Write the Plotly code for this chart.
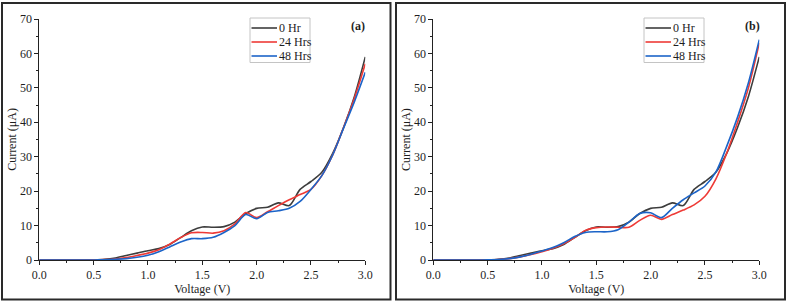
import plotly.graph_objects as go

voltage = [0.0, 0.1, 0.2, 0.3, 0.4, 0.5, 0.6, 0.7, 0.8, 0.9, 1.0, 1.1, 1.2, 1.3, 1.4, 1.5,
           1.6, 1.7, 1.8, 1.9, 2.0, 2.1, 2.2, 2.3, 2.4, 2.5, 2.6, 2.7, 2.8, 2.9, 3.0]

a_0hr = [0, 0, 0, 0, 0, 0.05, 0.2, 0.6, 1.3, 2.0, 2.7, 3.3, 4.5, 6.5, 8.5, 9.6,
         9.5, 9.7, 11.0, 13.5, 15.0, 15.3, 16.6, 15.8, 20.5, 22.8, 25.5, 31.0, 38.5, 47.5, 59.0]
a_24hrs = [0, 0, 0, 0, 0, 0.03, 0.1, 0.3, 0.7, 1.3, 2.0, 3.0, 4.6, 6.5, 7.9, 8.0,
           7.8, 8.5, 10.5, 13.8, 12.3, 14.0, 15.8, 17.5, 19.0, 20.5, 24.5, 30.5, 38.5, 47.0, 57.0]
a_48hrs = [0, 0, 0, 0, 0, 0.02, 0.08, 0.2, 0.4, 0.8, 1.4, 2.4, 3.8, 5.2, 6.2, 6.2,
           6.6, 8.0, 10.0, 13.2, 12.0, 13.8, 14.3, 15.0, 17.0, 20.5, 24.5, 30.5, 38.3, 46.0, 54.5]

b_0hr = a_0hr
b_24hrs = [0, 0, 0, 0, 0, 0.05, 0.15, 0.4, 0.9, 1.6, 2.4, 3.4, 4.7, 6.5, 8.6, 9.4,
           9.6, 9.5, 9.5, 11.5, 13.0, 11.8, 13.2, 14.5, 16.0, 18.5, 23.5, 31.0, 40.0, 50.0, 63.0]
b_48hrs = [0, 0, 0, 0, 0, 0.05, 0.15, 0.4, 0.9, 1.7, 2.6, 3.6, 5.0, 6.8, 8.0, 8.2,
           8.2, 8.8, 11.0, 13.5, 13.7, 12.3, 15.0, 17.5, 19.5, 21.5, 25.5, 33.0, 41.5, 51.5, 64.0]

series_names = ["0 Hr", "24 Hrs", "48 Hrs"]
colors = ["#3d3d3d", "#ee3a36", "#1c64c8"]
panel_labels = ["(a)", "(b)"]
x_ticks = [0.0, 0.5, 1.0, 1.5, 2.0, 2.5, 3.0]
x_tick_text = ["0.0", "0.5", "1.0", "1.5", "2.0", "2.5", "3.0"]
y_ticks = [0, 10, 20, 30, 40, 50, 60, 70]

W, H = 789, 304
FONT = "Liberation Serif, Times New Roman, serif"
TXT = "#1e1e1e"

fig = go.Figure()

panels = [(a_0hr, a_24hrs, a_48hrs), (b_0hr, b_24hrs, b_48hrs)]
x_px = [(39.3, 365.3), (433.3, 759.3)]
y_px = (260, 19)

for p, data in enumerate(panels):
    xa = "x" if p == 0 else "x2"
    ya = "y" if p == 0 else "y2"
    for i, ys in enumerate(data):
        fig.add_trace(go.Scatter(
            x=voltage, y=ys, mode="lines", name=series_names[i],
            line=dict(color=colors[i], width=1.6, shape="spline", smoothing=0.8),
            xaxis=xa, yaxis=ya, showlegend=False))

axis_common = dict(
    showgrid=False, zeroline=False, showline=True, linecolor="#222", linewidth=1,
    ticks="outside", ticklen=4, tickwidth=1, tickcolor="#222",
    tickfont=dict(family=FONT, size=12, color=TXT),
    minor=dict(ticks="outside", ticklen=2, tickwidth=1, tickcolor="#222"),
    mirror=False, automargin=False,
)

layout = dict(
    width=W, height=H, margin=dict(l=0, r=0, t=0, b=0),
    paper_bgcolor="white", plot_bgcolor="white",
    font=dict(family=FONT, size=12, color=TXT),
    showlegend=False,
)

for p in range(2):
    x0, x1 = x_px[p]
    xd = [x0 / W, x1 / W]
    yd = [(H - y_px[0]) / H, (H - y_px[1]) / H]
    xkey = "xaxis" if p == 0 else "xaxis2"
    ykey = "yaxis" if p == 0 else "yaxis2"
    layout[xkey] = dict(axis_common, domain=xd, range=[0, 3.0], tickvals=x_ticks,
                        ticktext=x_tick_text, minor=dict(axis_common["minor"], dtick=0.25, tick0=0),
                        anchor="y" if p == 0 else "y2",
                        title=dict(text="Voltage (V)", font=dict(family=FONT, size=12, color=TXT), standoff=0))
    layout[ykey] = dict(axis_common, domain=yd, range=[0, 70], tickvals=y_ticks,
                        minor=dict(axis_common["minor"], dtick=5, tick0=0),
                        anchor="x" if p == 0 else "x2",
                        title=dict(text="Current (μA)", font=dict(family=FONT, size=12, color=TXT), standoff=0))

fig.update_layout(**layout)

# Panel labels and legend boxes (decoration)
leg_rows = [28, 42, 56]
for p in range(2):
    x0, x1 = x_px[p]
    fig.add_annotation(x=(x1 - 7) / W, y=(H - 26) / H, xref="paper", yref="paper",
                       xanchor="center", yanchor="middle",
                       text="<b>" + panel_labels[p] + "</b>", showarrow=False,
                       font=dict(family=FONT, size=12, color=TXT))
    lx0 = x0 + 210.7
    fig.add_shape(type="rect", xref="paper", yref="paper",
                  x0=lx0 / W, x1=(lx0 + 60) / W, y0=(H - 62.5) / H, y1=(H - 18) / H,
                  line=dict(color="#c4c4c4", width=1), fillcolor="white")
    for i, name in enumerate(series_names):
        yy = (H - leg_rows[i]) / H
        fig.add_shape(type="line", xref="paper", yref="paper",
                      x0=(lx0 + 1.5) / W, x1=(lx0 + 27) / W, y0=yy, y1=yy,
                      line=dict(color=colors[i], width=1.6))
        fig.add_annotation(x=(lx0 + 28) / W, y=yy, xref="paper", yref="paper",
                           xanchor="left", yanchor="middle", text=name, showarrow=False,
                           font=dict(family=FONT, size=12, color=TXT), borderpad=0)

for (bx0, bx1) in [(2, 390.5), (396, 785)]:
    fig.add_shape(type="rect", xref="paper", yref="paper",
                  x0=bx0 / W, x1=bx1 / W, y0=(H - 299.5) / H, y1=(H - 3) / H,
                  line=dict(color="#2a2a2a", width=2), fillcolor="rgba(0,0,0,0)")

fig.write_html("out.html", config={"displayModeBar": False},
               post_script="document.body.style.margin='0';document.body.style.padding='0';")
